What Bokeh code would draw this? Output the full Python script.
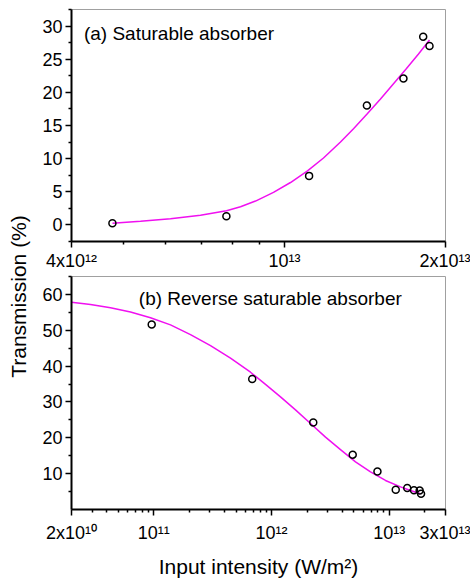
import numpy as np
from bokeh.plotting import figure
from bokeh.layouts import row, column
from bokeh.models import Range1d, FixedTicker, CustomJSTickFormatter, Label
from bokeh.core.properties import value
from bokeh.embed import file_html
from bokeh.resources import INLINE

FONT = "Liberation Sans"

# ---- Panel (a): saturable absorber ----
sa_x = [4.77e12, 7.79e12, 1.112e13, 1.426e13, 1.669e13, 1.817e13, 1.867e13]
sa_y = [0.26, 1.3, 7.4, 18.0, 22.1, 28.4, 27.0]
sa_fit_x = [4.772e12, 5.383e12, 6.125e12, 6.968e12, 7.794e12, 8.278e12, 8.830e12,
            9.540e12, 1.0265e13, 1.1044e13, 1.1831e13, 1.2729e13, 1.3462e13,
            1.4298e13, 1.5120e13, 1.5990e13, 1.6910e13, 1.7806e13, 1.8669e13]
sa_fit_y = [0.25, 0.55, 0.92, 1.45, 2.15, 2.75, 3.6,
            4.9, 6.4, 8.15, 10.1, 12.5, 14.5,
            16.8, 19.0, 21.3, 23.6, 25.8, 27.9]
sa_xticks = [4e12, 1e13, 2e13]
sa_xlabels = ["4x10\u00b9\u00b2", "10\u00b9\u00b3", "2x10\u00b9\u00b3"]
sa_xminor = [5e12, 6e12, 7e12, 8e12, 9e12]
sa_yticks = [0, 5, 10, 15, 20, 25, 30]
sa_yminor = [-2.5, 2.5, 7.5, 12.5, 17.5, 22.5, 27.5, 32.5]

# ---- Panel (b): reverse saturable absorber ----
rsa_x = [9.6e10, 6.85e11, 2.26e12, 4.89e12, 7.93e12, 1.134e13, 1.42e13, 1.62e13, 1.81e13, 1.86e13]
rsa_y = [51.6, 36.4, 24.3, 15.3, 10.6, 5.5, 6.0, 5.4, 5.3, 4.4]
rsa_fit_x = [2.0e10, 2.900e10, 4.288e10, 6.340e10, 9.374e10, 1.3859e11, 2.049e11,
             3.030e11, 4.480e11, 6.624e11, 8.882e11, 1.1910e12, 1.5969e12,
             2.1412e12, 2.8712e12, 3.8497e12, 5.1618e12, 6.9212e12, 9.280e12,
             1.2443e13, 1.5130e13, 1.8396e13]
rsa_fit_y = [57.8, 57.2, 56.3, 55.1, 53.5, 51.5, 48.8,
             45.7, 42.2, 38.3, 34.9, 31.4, 27.8,
             24.0, 20.2, 16.7, 13.3, 10.5, 8.1,
             6.3, 5.3, 4.4]
rsa_xticks = [2e10, 1e11, 1e12, 1e13, 3e13]
rsa_xlabels = ["2x10\u00b9\u2070", "10\u00b9\u00b9", "10\u00b9\u00b2", "10\u00b9\u00b3", "3x10\u00b9\u00b3"]
rsa_xminor = [3e10, 4e10, 5e10, 6e10, 7e10, 8e10, 9e10,
              2e11, 3e11, 4e11, 5e11, 6e11, 7e11, 8e11, 9e11,
              2e12, 3e12, 4e12, 5e12, 6e12, 7e12, 8e12, 9e12, 2e13]
rsa_yticks = [10, 20, 30, 40, 50, 60]
rsa_yminor = [5, 15, 25, 35, 45, 55, 65]

y_title = "Transmission (%)"
x_title = "Input intensity (W/m\u00b2)"
label_a = "(a) Saturable absorber"
label_b = "(b) Reverse saturable absorber"

FMT_CODE = """
for (let i = 0; i < t.length; i++) {
  if (Math.abs(tick - t[i]) <= 1e-6 * Math.abs(t[i])) { return l[i]; }
}
return "";
"""


def style_axes(p, xt, xl, xm, yt, ym, xstand):
    p.grid.visible = False
    p.outline_line_color = "#a0a0a0"
    p.outline_line_width = 1
    p.background_fill_color = "white"
    p.border_fill_color = "white"
    p.xaxis.ticker = FixedTicker(ticks=xt, minor_ticks=xm)
    p.xaxis.formatter = CustomJSTickFormatter(args=dict(t=xt, l=xl), code=FMT_CODE)
    p.yaxis.ticker = FixedTicker(ticks=yt, minor_ticks=ym)
    for ax in (p.xaxis[0], p.yaxis[0]):
        ax.axis_line_color = "black"
        ax.axis_line_width = 2
        ax.major_tick_line_color = "black"
        ax.minor_tick_line_color = "black"
        ax.major_tick_line_width = 1.5
        ax.minor_tick_line_width = 1.5
        ax.major_tick_out = 6
        ax.major_tick_in = 0
        ax.minor_tick_out = 3
        ax.minor_tick_in = 0
        ax.major_label_text_font = FONT
        ax.major_label_text_font_size = "18px"
        ax.major_label_text_color = "black"
    p.yaxis.major_label_standoff = 3
    p.xaxis.major_label_standoff = xstand


# Top panel
top = figure(width=432, height=273, x_axis_type="log",
             x_range=Range1d(4e12, 2e13), y_range=Range1d(-2.5, 32.5),
             output_backend="svg", toolbar_location=None,
             min_border_left=33, min_border_right=25, min_border_top=9, min_border_bottom=31)
style_axes(top, sa_xticks, sa_xlabels, sa_xminor, sa_yticks, sa_yminor, 3)
top.line(sa_fit_x, sa_fit_y, line_color="#f010f0", line_width=1.5)
top.scatter(sa_x, sa_y, marker="circle", size=7, fill_color=None,
            line_color="black", line_width=1.5)
top.add_layout(Label(x=4.22e12, y=28.9, text=label_a, text_font=FONT,
                     text_font_size="19px", text_color="black",
                     text_align="left", text_baseline="alphabetic"))

# Bottom panel
bot = figure(width=432, height=307, x_axis_type="log",
             x_range=Range1d(2e10, 3e13), y_range=Range1d(0, 65),
             output_backend="svg", toolbar_location=None,
             min_border_left=33, min_border_right=25, min_border_top=3, min_border_bottom=71)
style_axes(bot, rsa_xticks, rsa_xlabels, rsa_xminor, rsa_yticks, rsa_yminor, 7)
bot.xaxis.axis_label = x_title
bot.xaxis.axis_label_text_font = FONT
bot.xaxis.axis_label_text_font_size = "21px"
bot.xaxis.axis_label_text_font_style = "normal"
bot.xaxis.axis_label_text_color = "black"
bot.xaxis.axis_label_standoff = 9
bot.line(rsa_fit_x, rsa_fit_y, line_color="#f010f0", line_width=1.5)
bot.scatter(rsa_x, rsa_y, marker="circle", size=7, fill_color=None,
            line_color="black", line_width=1.5)
bot.add_layout(Label(x=7.46e10, y=58.9, text=label_b, text_font=FONT,
                     text_font_size="19px", text_color="black",
                     text_align="left", text_baseline="alphabetic"))

# Shared y-axis title strip
lab = figure(width=38, height=580, x_range=Range1d(0, 38), y_range=Range1d(0, 580),
             x_axis_location=None, y_axis_location=None,
             output_backend="svg", toolbar_location=None, min_border=0)
lab.grid.visible = False
lab.outline_line_color = None
lab.text(x=[18], y=[284], text=[y_title], angle=np.pi / 2,
         text_align="center", text_baseline="middle",
         text_font=value(FONT), text_font_size="21px", text_color="black")

layout = row(lab, column(top, bot, spacing=0), spacing=0)

open("out.html", "w").write(file_html(layout, INLINE))
